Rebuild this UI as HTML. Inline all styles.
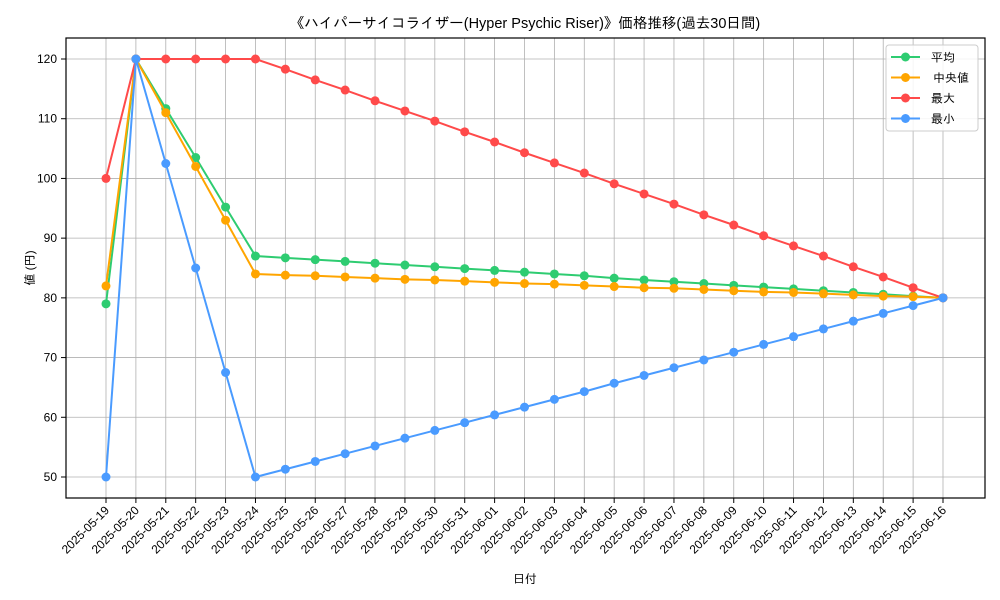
<!DOCTYPE html>
<html><head><meta charset="utf-8"><style>
body{margin:0;background:#fff}
svg{display:block;font-family:"Liberation Sans","IPAGothic","Noto Sans CJK JP",sans-serif}
</style></head><body>
<svg id="chart" width="1000" height="600" viewBox="0 0 1000 600">
<rect width="1000" height="600" fill="#fff"/>
<text x="525" y="28" text-anchor="middle" font-size="14.5">《ハイパーサイコライザー(Hyper Psychic Riser)》価格推移(過去30日間)</text>
<g id="grid"></g>
<g id="axes"></g>
<g id="series"></g>
<rect x="66" y="38" width="919" height="460" fill="none" stroke="#000" stroke-width="1.2"/>
<text x="525" y="583" text-anchor="middle" font-size="12">日付</text>
<text transform="translate(34,268) rotate(-90)" text-anchor="middle" font-size="12">値 (円)</text>
<g id="legend"></g>
</svg>
<script>
const dates=["2025-05-19","2025-05-20","2025-05-21","2025-05-22","2025-05-23","2025-05-24","2025-05-25","2025-05-26","2025-05-27","2025-05-28","2025-05-29","2025-05-30","2025-05-31","2025-06-01","2025-06-02","2025-06-03","2025-06-04","2025-06-05","2025-06-06","2025-06-07","2025-06-08","2025-06-09","2025-06-10","2025-06-11","2025-06-12","2025-06-13","2025-06-14","2025-06-15","2025-06-16"];
const avgValues=[79,120,111.7,103.5,95.2,87,86.7,86.4,86.1,85.8,85.5,85.2,84.9,84.6,84.3,84.0,83.7,83.3,83.0,82.7,82.4,82.1,81.8,81.5,81.2,80.9,80.6,80.3,80];
const medianValues=[82,120,111,102,93,84,83.8,83.7,83.5,83.3,83.1,83.0,82.8,82.6,82.4,82.3,82.1,81.9,81.7,81.6,81.4,81.2,81.0,80.9,80.7,80.5,80.3,80.2,80];
const maxValues=[100,120,120,120,120,120,118.3,116.5,114.8,113.0,111.3,109.6,107.8,106.1,104.3,102.6,100.9,99.1,97.4,95.7,93.9,92.2,90.4,88.7,87.0,85.2,83.5,81.7,80];
const minValues=[50,120,102.5,85,67.5,50,51.3,52.6,53.9,55.2,56.5,57.8,59.1,60.4,61.7,63.0,64.3,65.7,67.0,68.3,69.6,70.9,72.2,73.5,74.8,76.1,77.4,78.7,80];
const yTicks=[50,60,70,80,90,100,110,120];
const seriesNames=["平均","中央値","最大","最小"];
const NS="http://www.w3.org/2000/svg";
const X=i=>106+i*(943-106)/28;
const Y=v=>477-(v-50)*(477-59)/70;
function mk(tag,attrs,parent){const e=document.createElementNS(NS,tag);for(const k in attrs)e.setAttribute(k,attrs[k]);parent.appendChild(e);return e;}
const grid=document.getElementById('grid'),axes=document.getElementById('axes'),ser=document.getElementById('series'),leg=document.getElementById('legend');
dates.forEach((d,i)=>{
 const l=mk('line',{x1:X(i),x2:X(i),y1:38,y2:498,stroke:'#b0b0b0','stroke-width':0.8},grid);
 
 
 const t=mk('line',{x1:X(i),x2:X(i),y1:498,y2:503,stroke:'#000'},axes);
 
 
 const tx=mk('text',{x:X(i)+4,y:511,'text-anchor':'end','font-size':12,transform:`rotate(-45 ${X(i)+4} 511)`},axes);
 tx.textContent=d;
 
 
});
yTicks.forEach(v=>{
 const l=mk('line',{x1:66,x2:985,y1:Y(v),y2:Y(v),stroke:'#b0b0b0','stroke-width':0.8},grid);
 
 
 const t=mk('line',{x1:61,x2:66,y1:Y(v),y2:Y(v),stroke:'#000'},axes);
 
 
 const tx=mk('text',{x:57,y:Y(v)+4,'text-anchor':'end','font-size':12},axes);
 tx.textContent=v;
 
 
});
const all=[[avgValues,'#2ecc71','avg'],[medianValues,'#ffa500','median'],[maxValues,'#ff4a4a','max'],[minValues,'#4a9bff','min']];
all.forEach(([vals,c,n])=>{
 const g=mk('g',{},ser);
 
 
 const p=mk('polyline',{points:vals.map((v,i)=>X(i)+','+Y(v)).join(' '),fill:'none',stroke:c,'stroke-width':2},g);
 
 
 vals.forEach((v,i)=>{
  const ci=mk('circle',{cx:X(i),cy:Y(v),r:4.5,fill:c},g);
  
  
 });
});
const box=mk('rect',{x:886,y:45,width:92,height:86,rx:3,fill:'#fff','fill-opacity':0.85,stroke:'#ccc'},leg);


all.forEach(([vals,c,n],k)=>{
 const y=57+k*20.5;
 const g=mk('g',{},leg);
 
 
 mk('line',{x1:891,x2:920,y1:y,y2:y,stroke:c,'stroke-width':2},g);
 mk('circle',{cx:905.5,cy:y,r:4.5,fill:c},g);
 const t=mk('text',{x:k==1?933:931,y:y+4.5,'font-size':12},g);
 t.textContent=seriesNames[k];
});
</script>
</body></html>
